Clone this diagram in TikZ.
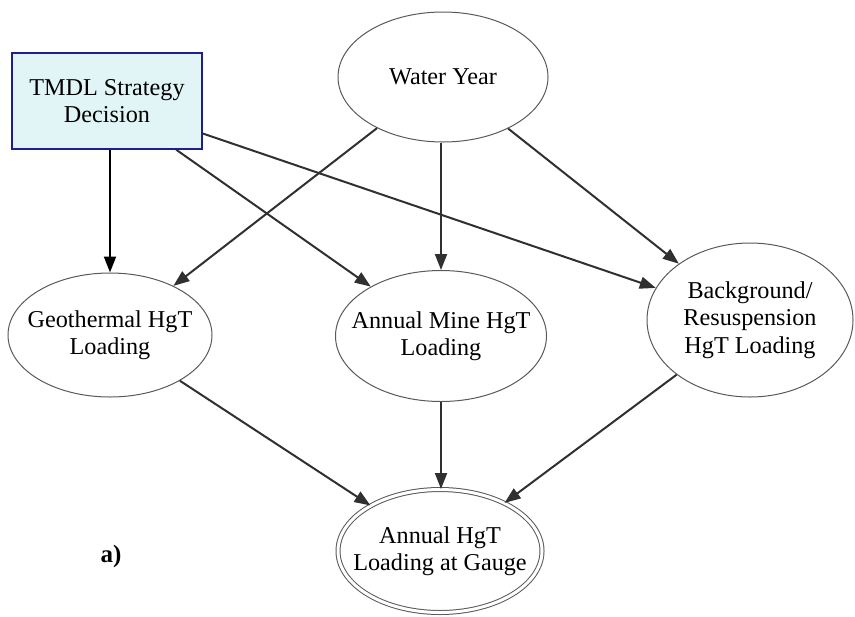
\documentclass[tikz,border=0pt]{standalone}
\usepackage{fontspec}
\setmainfont{Liberation Serif}
\newfontfamily\diagfont{Liberation Serif}
\usetikzlibrary{arrows.meta,shapes.geometric}

\definecolor{boxfill}{RGB}{226,245,246}
\definecolor{boxline}{RGB}{30,30,140}
\definecolor{edgegray}{RGB}{48,48,48}

\tikzset{
  chance/.style={ellipse, draw=black!65, line width=0.5pt, inner sep=-20pt,
    align=center, font=\diagfont\fontsize{12.1}{13.7}\selectfont},
  decision/.style={rectangle, draw=boxline, fill=boxfill, line width=0.75pt,
    align=center, font=\diagfont\fontsize{12.1}{13.7}\selectfont},
  utility/.style={chance, double, double distance=1.5pt},
  link/.style={->, line width=1pt, draw=edgegray},
  >={Triangle[length=8pt,width=6pt]}
}

\begin{document}
\begin{tikzpicture}[x=0.5pt,y=-0.5pt]
            \useasboundingbox (0,0) rectangle (855,616);
            \node[decision, minimum width=95pt, minimum height=48pt] (tmdl) at (107,101) {TMDL Strategy\\Decision};
            \node[chance, minimum width=105pt, minimum height=65pt] (water) at (443,77) {Water Year};
            \node[chance, minimum width=102pt, minimum height=62pt] (geo) at (110,335) {Geothermal HgT\\Loading};
            \node[chance, minimum width=105.5pt, minimum height=65.5pt] (mine) at (441,336) {Annual Mine HgT\\Loading};
            \node[chance, minimum width=103pt, minimum height=77pt] (back) at (750,320) {Background/\\Resuspension\\HgT Loading};
            \node[utility, minimum width=102pt, minimum height=61.5pt] (gauge) at (440,551) {Annual HgT\\Loading at Gauge};
            \node[font=\diagfont\fontsize{12.5}{14}\selectfont\bfseries] (tag) at (111,556) {a)};
            \draw[link, draw=black] (tmdl.south -| geo.north) -- (geo.north);
            \draw[link] (tmdl) -- (mine);
            \draw[link] (tmdl) -- (back);
            \draw[link] (water) -- (geo);
            \draw[link] (water.south -| mine.north) -- (mine.north);
            \draw[link] (water) -- (back);
            \draw[link] (geo) -- (gauge);
            \draw[link] (mine.south) -- (gauge.north -| mine.south);
            \draw[link] (back) -- (gauge);
        \end{tikzpicture}
\end{document}
